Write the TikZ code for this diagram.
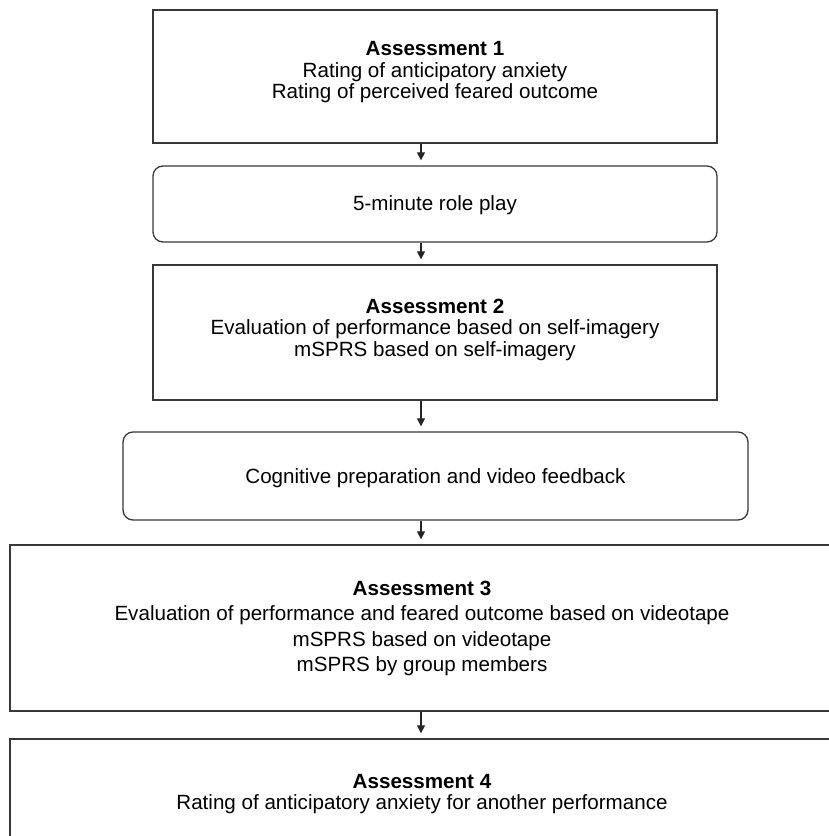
\documentclass[tikz,border=0pt]{standalone}
\usepackage{fontspec}
\setmainfont{Liberation Sans}
\usetikzlibrary{arrows.meta}
\begin{document}
\begin{tikzpicture}[x=1pt,y=-1pt,
  boxline/.style={draw=black!78, line width=1.3pt},
  sqbox/.style={boxline, rectangle, inner sep=0pt},
  rbox/.style={boxline, rectangle, rounded corners=10pt, inner sep=0pt},
  txt/.style={inner sep=0pt, align=center, font=\fontsize{20.6}{21.5}\selectfont},
  txtw/.style={inner sep=0pt, align=center, font=\fontsize{20.6}{25.5}\selectfont},
  arr/.style={draw=black!85, line width=1.1pt, shorten >=5pt, -{Triangle[width=8pt,length=8pt]}}
]
\useasboundingbox (0,0) rectangle (829,836);
\clip (0,0) rectangle (829,836);
% boxes
\node[sqbox, minimum width=564pt, minimum height=133pt] (b1) at (435,76.5) {};
\node[rbox, minimum width=564pt, minimum height=76pt] (b2) at (435,204) {};
\node[sqbox, minimum width=564pt, minimum height=135pt] (b3) at (435,332.5) {};
\node[rbox, minimum width=625pt, minimum height=88pt] (b4) at (435.5,476) {};
\node[sqbox, minimum width=824pt, minimum height=166pt] (b5) at (422,628) {};
\node[sqbox, minimum width=824pt, minimum height=140pt] (b6) at (422,809) {};
% texts
\node[txt] (t1) at (435,72.5) {\textbf{Assessment 1}\\Rating of anticipatory anxiety\\Rating of perceived feared outcome};
\node[txt] (t2) at (435,205) {5-minute role play};
\node[txt] (t3) at (435,329.5) {\textbf{Assessment 2}\\Evaluation of performance based on self-imagery\\mSPRS based on self-imagery};
\node[txt] (t4) at (435.5,478) {Cognitive preparation and video feedback};
\node[txtw] (t5) at (422,628.5) {\textbf{Assessment 3}\\Evaluation of performance and feared outcome based on videotape\\mSPRS based on videotape\\mSPRS by group members};
\node[txt] (t6) at (422,794) {\textbf{Assessment 4}\\Rating of anticipatory anxiety for another performance};
% arrows
\coordinate (ax) at (421,0);
\draw[arr] (b1.south -| ax) -- (b2.north -| ax);
\draw[arr] (b2.south -| ax) -- (b3.north -| ax);
\draw[arr] (b3.south -| ax) -- (b4.north -| ax);
\draw[arr] (b4.south -| ax) -- (b5.north -| ax);
\draw[arr] (b5.south -| ax) -- (b6.north -| ax);
\end{tikzpicture}
\end{document}
